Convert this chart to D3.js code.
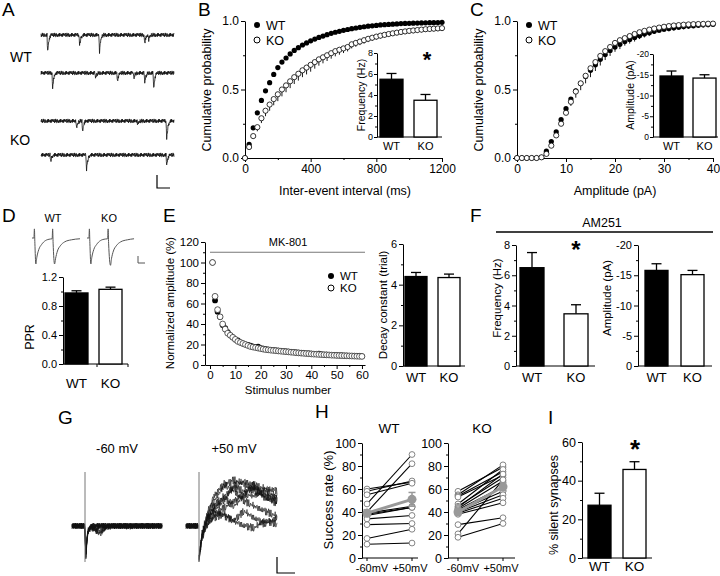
<!DOCTYPE html>
<html><head><meta charset="utf-8">
<script src="https://cdn.jsdelivr.net/npm/d3@7"></script>
<style>
body{margin:0;background:#fff}
svg{display:block}
text{font-family:"Liberation Sans",Arial,sans-serif;fill:#000}
</style>
</head><body><svg id="fig" width="720" height="576"></svg>
<script>
// ---------------- DATA ----------------
const groups = ["WT", "KO"];
const panelLetters = ["A","B","C","D","E","F","G","H","I"];

// A: spontaneous event traces (event time in % of sweep, amplitude)
const aEventsWT1 = [[4.5,17],[28.6,10],[43.6,17],[77.4,8],[80.5,5]];
const aEventsWT2 = [[8.3,15],[40.6,5],[57.1,8],[69.2,5],[77.4,10],[84.2,15]];
const aEventsKO1 = [[26.3,8],[30.8,10],[72.2,4],[94,18]];
const aEventsKO2 = [[6.8,6],[33.8,15],[94,10]];
const eventShape = [0,-0.55,-1,-0.8,-0.6,-0.45,-0.33,-0.24,-0.17,-0.12,-0.08,-0.05,-0.03,-0.01];
const noiseTemplate = [0.6,-0.4,0.9,-0.7,0.3,-0.9,0.5,-0.2,0.8,-0.6,0.1,-0.8,0.7,-0.3,0.4,-0.5,0.9,-0.1,0.2,-0.7,1,-0.5,0.3,-0.95,0.65,-0.25,0.85,-0.45,0.15,-0.75,0.55,-0.35,0.95,-0.15,0.45,-0.85,0.05];

// B: inter-event interval cumulative distributions
const bIntervals = d3.range(0, 1201, 25);
const bWT = [0,.10,.22,.33,.42,.49,.55,.61,.66,.70,.73,.76,.785,.805,.825,.84,.855,.868,.88,.89,.90,.91,.918,.925,.932,.938,.944,.949,.954,.958,.962,.965,.968,.971,.973,.975,.977,.979,.981,.982,.983,.984,.985,.986,.987,.988,.988,.989,.99];
const bKO = [0,.08,.16,.225,.29,.345,.39,.43,.465,.50,.53,.56,.59,.615,.64,.66,.68,.70,.72,.735,.75,.765,.78,.79,.80,.81,.83,.84,.85,.86,.87,.878,.886,.893,.899,.905,.91,.915,.92,.924,.928,.931,.934,.937,.94,.942,.944,.946,.948];
const bKOerr = [0,.01,.02,.03,.035,.04,.045,.045,.05,.05,.05,.05,.05,.05,.05,.05,.05,.048,.046,.044,.042,.04,.038,.036,.034,.032,.03,.028,.026,.025,.024,.023,.022,.021,.02,.02,.02,.02,.02,.02,.02,.02,.02,.02,.02,.02,.02,.02,.02];
const bFreq = [5.5, 3.5];
const bFreqErr = [0.55, 0.55];

// C: amplitude cumulative distributions
const cAmps = d3.range(0, 41);
const cWT = [0,0,0,0,0,.005,.05,.12,.19,.28,.36,.43,.49,.545,.595,.64,.68,.72,.755,.785,.81,.83,.85,.865,.88,.893,.905,.915,.925,.933,.94,.945,.95,.955,.959,.963,.966,.969,.972,.974,.976];
const cKO = [0,0,0,0,0,.005,.03,.09,.165,.25,.33,.41,.485,.545,.60,.655,.70,.745,.78,.81,.84,.86,.875,.89,.905,.918,.928,.937,.945,.952,.958,.963,.967,.97,.973,.975,.977,.978,.979,.98,.981];
const cWTerr = [0,0,0,0,0,0,.01,.02,.03,.04,.045,.05,.05,.05,.05,.05,.045,.045,.04,.04,.035,.035,.03,.03,.03,.025,.025,.025,.02,.02,.02,.02,.02,.02,.02,.02,.02,.02,.02,.02,.02];
const cAmp = [14.7, 14.2];
const cAmpErr = [1.2, 0.8];

// D: paired-pulse
const dTraceWT = [[0,0],[2,0],[2.5,0.35],[3,-0.2],[4,-1],[5,-0.75],[7,-0.45],[10,-0.25],[14,-0.1],[19,-0.04],[21,-0.03],[21.5,0.35],[22,-0.2],[23.5,-1.0],[24.5,-0.8],[26.5,-0.5],[29.5,-0.3],[34,-0.15],[41,-0.07],[50,-0.03]];
const dTraceKO = [[0,0],[2,0],[2.5,0.35],[3,-0.2],[4,-1],[5,-0.75],[7,-0.45],[10,-0.25],[14,-0.1],[19,-0.04],[21.5,-0.03],[22,0.35],[22.5,-0.2],[24.5,-1.05],[25.5,-0.8],[27.5,-0.5],[30.5,-0.3],[35,-0.15],[42,-0.07],[49,-0.03]];
const dPPR = [0.98, 1.03];
const dPPRErr = [0.03, 0.03];

// E: MK-801 blockade
const eStim = d3.range(1, 61);
const eWT = [100,63,52,47,39,36,32,29,27,25,24,22,21,20,19.5,19,18,17.5,18,16.5,16,15.5,15,14.8,14.5,14.2,14,13.8,13.5,13.2,13,12.8,12.5,12.3,12,11.8,11.6,11.4,11.2,11,10.8,10.6,11,10.4,10.2,10,9.9,9.8,9.6,9.5,9.4,9.3,9.2,9.1,9,8.9,8.8,8.7,8.6,8.5];
const eKO = [100,67,54,47,40,35,31,29,27,25,23,22,21,20,19,18,17.5,17,16.5,16,15.5,15,14.8,14.5,14.2,14,13.7,13.5,13.2,13,12.8,12.5,12.3,12,11.8,11.6,11.4,11.2,11,10.8,10.6,10.5,10.3,10.2,10,9.9,9.8,9.6,9.5,9.4,9.3,9.2,9.1,9,8.9,8.8,8.7,8.6,8.5,8.4];
const eDecay = [4.4, 4.35];
const eDecayErr = [0.2, 0.17];

// F: AM251
const fFreq = [6.5, 3.45];
const fFreqErr = [1.0, 0.6];
const fAmp = [15.8, 15.1];
const fAmpErr = [1.1, 0.7];

// G: minimal stimulation traces
const gNeg60 = [
  [[-13,0],[0,0],[0.6,-34],[1.5,-20],[3,-6],[6,-1],[10,0],[77,0]],
  [[-13,0],[0,0],[0.6,-34],[1.5,-18],[3,-5],[6,-2],[12,-6],[16,-8],[20,-2],[24,0],[77,0]],
  [[-13,0],[0,0],[0.6,-34],[1.5,-19],[3,-5],[6,-1],[14,-7],[19,-4],[23,0],[77,0]],
  [[-13,0],[0,0],[0.6,-34],[1.5,-17],[3,-4],[6,0],[77,0]],
  [[-13,0],[0,0],[0.6,-34],[1.5,-16],[3,-5],[6,-1],[16,-5],[22,-1],[77,0]],
  [[-13,0],[0,0],[0.6,-34],[1.5,-18],[3,-5],[7,0],[77,0]],
  [[-13,0],[0,0],[0.6,-34],[1.5,-17],[3,-4],[6,0],[77,0]],
  [[-13,0],[0,0],[0.6,-34],[1.5,-19],[3,-6],[6,-1],[11,-4],[15,0],[77,0]]
];
const gPos50 = [
  [[0,-32],[3,-10],[8,10],[15,25],[25,40],[35,46],[45,42],[55,35],[65,30],[78,22]],
  [[0,-32],[3,-8],[8,8],[15,20],[25,30],[35,38],[45,35],[55,38],[65,32],[78,28]],
  [[0,-32],[3,-12],[8,0],[15,10],[25,18],[35,25],[45,32],[55,30],[65,35],[78,30]],
  [[0,-32],[3,-10],[8,8],[15,15],[25,10],[35,5],[45,0],[55,-2],[65,5],[78,2]],
  [[0,-32],[3,-10],[8,5],[15,15],[25,25],[35,40],[45,45],[55,40],[65,38],[78,35]],
  [[0,-32],[3,-12],[8,2],[15,8],[25,12],[35,5],[45,15],[55,8],[65,2],[78,8]],
  [[0,-32],[3,-8],[8,12],[15,30],[25,42],[35,35],[45,25],[55,20],[65,15],[78,10]],
  [[0,-32],[3,-12],[8,4],[15,18],[25,28],[35,20],[45,30],[55,42],[65,28],[78,25]]
];

// H: success rates (-60 mV, +50 mV)
const hConds = ["-60mV", "+50mV"];
const hWT = [[60,66],[58,67],[55,65],[47,90],[40,82],[39,45],[38,44],[37,44],[34,37],[29,30],[17,25],[12,13]];
const hWTmean = [39, 51];
const hWTsem = [3, 6];
const hKO = [[58,79],[55,81],[54,75],[53,72],[47,77],[45,70],[44,73],[43,67],[42,62],[41,58],[40,55],[39,52],[38,48],[29,35],[21,68],[18,30]];
const hKOmean = [40, 62];
const hKOsem = [2.5, 3.5];

// I: silent synapses
const iSilent = [27.3, 45.8];
const iSilentErr = [6.2, 4.0];

// tick label sets
const ticksProb = [0, 0.5, 1.0];
const ticksIEI = [0, 400, 800, 1200];
const ticksAmpC = [0, 10, 20, 30, 40];
const ticksFreq8 = [0, 2, 4, 6, 8];
const ticksAmp20 = [0, 5, 10, 15, 20];
const ticksPPR = [0, 0.4, 0.8, 1.2];
const ticksNorm = [0, 20, 40, 60, 80, 100, 120];
const ticksStim = [0, 10, 20, 30, 40, 50, 60];
const ticksDecay = [0, 2, 4, 6];
const ticksRate = [0, 20, 40, 60, 80, 100];
const ticksSilent = [0, 20, 40, 60];

// ---------------- DRAWING ----------------
const svg = d3.select("#fig");
const FONT = '"Liberation Sans", Arial, sans-serif';

function txt(x, y, s, size, anchor = "middle", rot = false, extra = {}) {
  const t = svg.append("text").attr("font-size", size).attr("text-anchor", anchor).text(s);
  if (rot) t.attr("transform", `translate(${x},${y}) rotate(-90)`).attr("dy", "0.35em");
  else t.attr("x", x).attr("y", y);
  for (const k in extra) t.attr(k, extra[k]);
  return t;
}

function yAxis(scale, x, major, minor, fmt, fs, tl = 4, pad = 2) {
  const g = svg.append("g").attr("transform", `translate(${x},0)`)
    .call(d3.axisLeft(scale).tickValues(major).tickFormat(fmt).tickSize(tl).tickSizeOuter(0).tickPadding(pad));
  g.attr("font-family", FONT).attr("font-size", fs);
  g.selectAll("text").style("fill", "#000");
  if (minor) {
    const m = svg.append("g").attr("transform", `translate(${x},0)`)
      .call(d3.axisLeft(scale).tickValues(minor).tickFormat("").tickSize(2).tickSizeOuter(0));
    m.select(".domain").remove();
  }
  return g;
}
function xAxis(scale, y, major, minor, fmt, fs, tl = 4) {
  const g = svg.append("g").attr("transform", `translate(0,${y})`)
    .call(d3.axisBottom(scale).tickValues(major).tickFormat(fmt).tickSize(tl).tickSizeOuter(0).tickPadding(2));
  g.attr("font-family", FONT).attr("font-size", fs);
  g.selectAll("text").style("fill", "#000");
  if (minor) {
    const m = svg.append("g").attr("transform", `translate(0,${y})`)
      .call(d3.axisBottom(scale).tickValues(minor).tickFormat("").tickSize(2).tickSizeOuter(0));
    m.select(".domain").remove();
  }
  return g;
}

function barPanel(o) {
  const y = d3.scaleLinear().domain(o.domain).range([o.y0, o.y1]);
  const x = d3.scaleBand().domain(groups).range([o.L, o.R]).paddingInner(1 - o.w / (o.R - o.L - o.w));
  yAxis(y, o.axisX, o.ticks, o.minor, o.fmt, o.fs, o.tl || 4, o.pad === undefined ? 2 : o.pad);
  svg.append("line").attr("x1", o.axisX).attr("x2", o.xEnd).attr("y1", o.y0).attr("y2", o.y0).attr("stroke", "#000");
  if (o.xticks) {
    svg.selectAll(null).data(o.xticks).enter().append("line")
      .attr("x1", d => d).attr("x2", d => d).attr("y1", o.y0).attr("y2", o.y0 + 3).attr("stroke", "#000");
  }
  const cap = o.cap || 5;
  groups.forEach((gname, i) => {
    const cx = x(gname) + x.bandwidth() / 2;
    const top = y(o.vals[i]), etop = y(o.vals[i] + o.errs[i]);
    svg.append("line").attr("x1", cx).attr("x2", cx).attr("y1", top).attr("y2", etop).attr("stroke", "#000").attr("stroke-width", 1.3);
    svg.append("line").attr("x1", cx - cap).attr("x2", cx + cap).attr("y1", etop).attr("y2", etop).attr("stroke", "#000").attr("stroke-width", 1.3);
    svg.append("rect").attr("x", x(gname)).attr("y", top).attr("width", x.bandwidth()).attr("height", o.y0 - top)
      .attr("fill", i === 0 ? "#000" : "#fff").attr("stroke", "#000").attr("stroke-width", 1.3);
    txt(cx, o.labelY, gname, o.labelFs);
  });
  if (o.ylabel) txt(o.ylabelX, o.ylabelY, o.ylabel, o.ylabelFs, "middle", true);
  return { x, y };
}

// Panel letters
const letterPos = [[2,16],[198,16],[470,16],[2,222],[163,222],[470,222],[58,424],[315,418],[548,424]];
panelLetters.forEach((l, i) => txt(letterPos[i][0], letterPos[i][1], l, 19, "start"));

// ---------- A ----------
{
  const xs = d3.scaleLinear().domain([0, 100]).range([41, 174]);
  const rows = [[aEventsWT1, 35], [aEventsWT2, 73], [aEventsKO1, 121], [aEventsKO2, 155]];
  const tSamples = d3.range(0, 100.01, 0.25);
  rows.forEach(([evs, base], r) => {
    const ys = d3.scaleLinear().domain([-20, 20]).range([base + 20, base - 20]);
    const vals = tSamples.map((t, k) => {
      let v = noiseTemplate[(k * 5 + r * 11) % noiseTemplate.length] * 2.1;
      evs.forEach(([et, amp]) => {
        const idx = Math.round((t - et) / 0.25);
        if (idx >= 0 && idx < eventShape.length) v += eventShape[idx] * amp;
      });
      return v;
    });
    svg.append("path").attr("d", d3.line().x((d, k) => xs(tSamples[k])).y(d => ys(d))(vals))
      .attr("fill", "none").attr("stroke", "#111").attr("stroke-width", 0.8);
  });
  txt(10, 62, "WT", 14, "start");
  txt(10, 145, "KO", 14, "start");
  svg.append("path").attr("d", "M157,175V188H170").attr("fill", "none").attr("stroke", "#000").attr("stroke-width", 1.2);
}

// ---------- B ----------
{
  const x = d3.scaleLinear().domain([0, 1200]).range([245, 442]);
  const y = d3.scaleLinear().domain([0, 1]).range([158, 21]);
  yAxis(y, 245, ticksProb, [0.25, 0.75], d3.format(".1f"), 12);
  xAxis(x, 158, ticksIEI, [200, 600, 1000], d3.format("d"), 12);
  txt(207, 90, "Cumulative probability", 12.5, "middle", true);
  txt(345, 195, "Inter-event interval (ms)", 12.5);
  svg.selectAll(null).data(bIntervals).enter().append("circle")
    .attr("cx", d => x(d)).attr("cy", (d, i) => y(bWT[i])).attr("r", 2.6).attr("fill", "#000");
  svg.selectAll(null).data(bIntervals).enter().append("line")
    .attr("x1", d => x(d)).attr("x2", d => x(d))
    .attr("y1", (d, i) => y(bKO[i])).attr("y2", (d, i) => y(bKO[i] - bKOerr[i]))
    .attr("stroke", "#000").attr("stroke-width", 0.9);
  svg.selectAll(null).data(bIntervals).enter().append("circle")
    .attr("cx", d => x(d)).attr("cy", (d, i) => y(bKO[i])).attr("r", 2.6)
    .attr("fill", "#fff").attr("stroke", "#000").attr("stroke-width", 0.8);
  svg.append("circle").attr("cx", 257).attr("cy", 25).attr("r", 3).attr("fill", "#000");
  svg.append("circle").attr("cx", 257).attr("cy", 40).attr("r", 3).attr("fill", "#fff").attr("stroke", "#000");
  txt(266, 29.5, "WT", 12.5, "start");
  txt(266, 44.5, "KO", 12.5, "start");
  barPanel({domain: [0, 8], y0: 137, y1: 53, L: 380, R: 437, w: 23, axisX: 377, xEnd: 442,
    ticks: ticksFreq8, minor: [1, 3, 5, 7], fmt: d3.format("d"), fs: 9, vals: bFreq, errs: bFreqErr,
    labelY: 150, labelFs: 11, ylabel: "Frequency (Hz)", ylabelX: 361, ylabelY: 95, ylabelFs: 10.5, cap: 5, tl: 3, pad: 1});
  txt(427, 67, "*", 22, "middle", false, {"font-weight": "bold"});
}

// ---------- C ----------
{
  const x = d3.scaleLinear().domain([0, 40]).range([517, 713]);
  const y = d3.scaleLinear().domain([0, 1]).range([158, 21]);
  yAxis(y, 517, ticksProb, [0.25, 0.75], d3.format(".1f"), 12);
  xAxis(x, 158, ticksAmpC, [5, 15, 25, 35], d3.format("d"), 12);
  txt(479, 90, "Cumulative probability", 12.5, "middle", true);
  txt(615, 195, "Amplitude (pA)", 12.5);
  svg.selectAll(null).data(cAmps).enter().append("line")
    .attr("x1", d => x(d)).attr("x2", d => x(d))
    .attr("y1", (d, i) => y(cWT[i])).attr("y2", (d, i) => y(cWT[i] - cWTerr[i]))
    .attr("stroke", "#000").attr("stroke-width", 0.9);
  svg.selectAll(null).data(cAmps).enter().append("circle")
    .attr("cx", d => x(d)).attr("cy", (d, i) => y(cWT[i])).attr("r", 2.6).attr("fill", "#000");
  svg.selectAll(null).data(cAmps).enter().append("circle")
    .attr("cx", d => x(d)).attr("cy", (d, i) => y(cKO[i])).attr("r", 2.6)
    .attr("fill", "#fff").attr("stroke", "#000").attr("stroke-width", 0.8);
  svg.append("circle").attr("cx", 529).attr("cy", 25).attr("r", 3).attr("fill", "#000");
  svg.append("circle").attr("cx", 529).attr("cy", 40).attr("r", 3).attr("fill", "#fff").attr("stroke", "#000");
  txt(538, 29.5, "WT", 12.5, "start");
  txt(538, 44.5, "KO", 12.5, "start");
  barPanel({domain: [0, 20], y0: 137, y1: 54, L: 660, R: 716, w: 23, axisX: 653, xEnd: 718,
    ticks: ticksAmp20, minor: [2.5, 7.5, 12.5, 17.5], fmt: d => d === 0 ? "0" : "-" + d, fs: 8.5, vals: cAmp, errs: cAmpErr,
    labelY: 150, labelFs: 11, ylabel: "Amplitude (pA)", ylabelX: 630, ylabelY: 95, ylabelFs: 10.5, cap: 5, tl: 3, pad: 1});
}

// ---------- D ----------
{
  const ys = d3.scaleLinear().domain([-1, 0]).range([264, 238]);
  const xw = d3.scaleLinear().domain([0, 50]).range([32, 80]);
  const xk = d3.scaleLinear().domain([0, 50]).range([87, 135]);
  const ln = (xs) => d3.line().x(d => xs(d[0])).y(d => ys(d[1])).curve(d3.curveMonotoneX);
  svg.append("path").attr("d", ln(xw)(dTraceWT)).attr("fill", "none").attr("stroke", "#555").attr("stroke-width", 1);
  svg.append("path").attr("d", ln(xk)(dTraceKO)).attr("fill", "none").attr("stroke", "#555").attr("stroke-width", 1);
  txt(53, 222, "WT", 11);
  txt(109, 222, "KO", 11);
  svg.append("path").attr("d", "M138,256V263H145").attr("fill", "none").attr("stroke", "#555").attr("stroke-width", 1);
  barPanel({domain: [0, 1.2], y0: 364, y1: 277, L: 65, R: 122, w: 23, axisX: 63, xEnd: 128,
    ticks: ticksPPR, minor: [0.2, 0.6, 1.0], fmt: d3.format(".1f"), fs: 11, vals: dPPR, errs: dPPRErr,
    labelY: 388, labelFs: 13.5, ylabel: "PPR", ylabelX: 30, ylabelY: 337, ylabelFs: 12.5, cap: 5, xticks: [97, 128]});
}

// ---------- E ----------
{
  const x = d3.scaleLinear().domain([-1.97, 61.2]).range([205, 365]);
  const y = d3.scaleLinear().domain([0, 120]).range([365, 242]);
  yAxis(y, 205, ticksNorm, [10, 30, 50, 70, 90, 110], d3.format("d"), 11.5);
  xAxis(x, 365, ticksStim, [5, 15, 25, 35, 45, 55], d3.format("d"), 11.5);
  txt(170, 303, "Normalized amplitude (%)", 11.5, "middle", true);
  txt(288, 394, "Stimulus number", 11.5);
  svg.append("line").attr("x1", x(0)).attr("x2", x(61.2)).attr("y1", y(110)).attr("y2", y(110)).attr("stroke", "#777").attr("stroke-width", 1.2);
  txt(288, 246, "MK-801", 11);
  svg.selectAll(null).data(eStim).enter().append("circle")
    .attr("cx", d => x(d)).attr("cy", (d, i) => y(eWT[i])).attr("r", 2.9).attr("fill", "#000");
  svg.selectAll(null).data(eStim).enter().append("circle")
    .attr("cx", d => x(d)).attr("cy", (d, i) => y(eKO[i])).attr("r", 2.9)
    .attr("fill", "#fff").attr("stroke", "#333").attr("stroke-width", 0.8);
  svg.append("circle").attr("cx", 331).attr("cy", 276).attr("r", 3).attr("fill", "#000");
  svg.append("circle").attr("cx", 331).attr("cy", 288).attr("r", 3).attr("fill", "#fff").attr("stroke", "#000");
  txt(340, 280, "WT", 11.5, "start");
  txt(340, 292, "KO", 11.5, "start");
  barPanel({domain: [0, 6], y0: 366, y1: 244, L: 405, R: 460, w: 22, axisX: 403, xEnd: 465,
    ticks: ticksDecay, minor: [1, 3, 5], fmt: d3.format("d"), fs: 11, vals: eDecay, errs: eDecayErr,
    labelY: 382, labelFs: 13, ylabel: "Decay constant (trial)", ylabelX: 383, ylabelY: 305, ylabelFs: 11.5, cap: 5});
}

// ---------- F ----------
{
  svg.append("line").attr("x1", 496).attr("x2", 713).attr("y1", 232).attr("y2", 232).attr("stroke", "#000").attr("stroke-width", 1.3);
  txt(602, 227, "AM251", 12.5);
  barPanel({domain: [0, 8], y0: 366, y1: 245, L: 520, R: 588, w: 24, axisX: 516, xEnd: 595,
    ticks: ticksFreq8, minor: [1, 3, 5, 7], fmt: d3.format("d"), fs: 11, vals: fFreq, errs: fFreqErr,
    labelY: 382, labelFs: 13, ylabel: "Frequency (Hz)", ylabelX: 497, ylabelY: 298, ylabelFs: 11.5, cap: 5});
  txt(576, 258, "*", 24, "middle", false, {"font-weight": "bold"});
  barPanel({domain: [0, 20], y0: 366, y1: 245, L: 645, R: 704, w: 23, axisX: 638, xEnd: 712,
    ticks: ticksAmp20, minor: [2.5, 7.5, 12.5, 17.5], fmt: d => d === 0 ? "0" : "-" + d, fs: 11, vals: fAmp, errs: fAmpErr,
    labelY: 382, labelFs: 13, ylabel: "Amplitude (pA)", ylabelX: 607, ylabelY: 298, ylabelFs: 11.5, cap: 5});
}

// ---------- G ----------
{
  const y = d3.scaleLinear().domain([-40, 60]).range([566, 466]);
  const drawSet = (traces, x0, namp, sw) => {
    const x = d3.scaleLinear().domain([0, 1]).range([x0, x0 + 1]);
    traces.forEach((cp, ti) => {
      const interp = d3.scaleLinear().domain(cp.map(d => d[0])).range(cp.map(d => d[1])).clamp(true);
      const t0 = cp[0][0], t1 = cp[cp.length - 1][0];
      const ts = d3.range(t0, t1 + 0.01, 0.6);
      const pts = ts.map((t, k) => [t, interp(t) + noiseTemplate[(k * 3 + ti * 7) % noiseTemplate.length] * namp]);
      svg.append("path").attr("d", d3.line().x(d => x(d[0])).y(d => y(d[1]))(pts))
        .attr("fill", "none").attr("stroke", "#111").attr("stroke-width", sw);
    });
    return x;
  };
  const xa = drawSet(gNeg60, 85, 3, 0.6);
  svg.append("line").attr("x1", xa(0)).attr("x2", xa(0)).attr("y1", y(54)).attr("y2", y(-36)).attr("stroke", "#777").attr("stroke-width", 1);
  const pre = gPos50.map(() => [[-13, 0], [-1, 0]]);
  const xb = drawSet(pre, 199, 3, 0.6);
  drawSet(gPos50, 199, 4, 0.6);
  svg.append("line").attr("x1", xb(0)).attr("x2", xb(0)).attr("y1", y(54)).attr("y2", y(-36)).attr("stroke", "#777").attr("stroke-width", 1);
  txt(117, 453, "-60 mV", 13);
  txt(234, 453, "+50 mV", 13);
  svg.append("path").attr("d", "M277,557V573H295").attr("fill", "none").attr("stroke", "#000").attr("stroke-width", 1.2);
}

// ---------- H ----------
function hPanel(data, mean, sem, axisX, cx0, cx1, xEnd, title, titleX) {
  const y = d3.scaleLinear().domain([0, 100]).range([558, 443]);
  const x = d3.scalePoint().domain(hConds).range([cx0, cx1]);
  yAxis(y, axisX, ticksRate, [10, 30, 50, 70, 90], d3.format("d"), 12.5);
  svg.append("line").attr("x1", axisX).attr("x2", xEnd).attr("y1", 558).attr("y2", 558).attr("stroke", "#000");
  hConds.forEach(c => {
    svg.append("line").attr("x1", x(c)).attr("x2", x(c)).attr("y1", 558).attr("y2", 561).attr("stroke", "#000");
    txt(x(c) + (c === "-60mV" ? 5 : -2), 572, c, 11);
  });
  data.forEach(p => {
    svg.append("line").attr("x1", x(hConds[0])).attr("x2", x(hConds[1])).attr("y1", y(p[0])).attr("y2", y(p[1]))
      .attr("stroke", "#000").attr("stroke-width", 1.1);
  });
  data.forEach(p => {
    p.forEach((v, i) => svg.append("circle").attr("cx", x(hConds[i])).attr("cy", y(v)).attr("r", 2.9)
      .attr("fill", "#fff").attr("stroke", "#777").attr("stroke-width", 0.9));
  });
  svg.append("line").attr("x1", x(hConds[0])).attr("x2", x(hConds[1])).attr("y1", y(mean[0])).attr("y2", y(mean[1]))
    .attr("stroke", "#999").attr("stroke-width", 3);
  mean.forEach((m, i) => {
    const cx = x(hConds[i]);
    svg.append("line").attr("x1", cx).attr("x2", cx).attr("y1", y(m - sem[i])).attr("y2", y(m + sem[i])).attr("stroke", "#999").attr("stroke-width", 1.5);
    svg.append("line").attr("x1", cx - 3.5).attr("x2", cx + 3.5).attr("y1", y(m + sem[i])).attr("y2", y(m + sem[i])).attr("stroke", "#999").attr("stroke-width", 1.5);
    svg.append("line").attr("x1", cx - 3.5).attr("x2", cx + 3.5).attr("y1", y(m - sem[i])).attr("y2", y(m - sem[i])).attr("stroke", "#999").attr("stroke-width", 1.5);
    svg.append("circle").attr("cx", cx).attr("cy", y(m)).attr("r", 4.5).attr("fill", "#999");
  });
  txt(titleX, 433, title, 13.5);
}
hPanel(hWT, hWTmean, hWTsem, 362, 367, 412, 418, "WT", 389);
hPanel(hKO, hKOmean, hKOsem, 448, 458, 503, 515, "KO", 482);
txt(328, 500, "Success rate (%)", 13, "middle", true);

// ---------- I ----------
barPanel({domain: [0, 60], y0: 558, y1: 442, L: 588, R: 646, w: 23, axisX: 582, xEnd: 652,
  ticks: ticksSilent, minor: [10, 30, 50], fmt: d3.format("d"), fs: 12.5, vals: iSilent, errs: iSilentErr,
  labelY: 571, labelFs: 13.5, ylabel: "% silent synapses", ylabelX: 554, ylabelY: 505, ylabelFs: 12.5, cap: 5});
txt(635, 458, "*", 26, "middle", false, {"font-weight": "bold"});
</script>
</body></html>
